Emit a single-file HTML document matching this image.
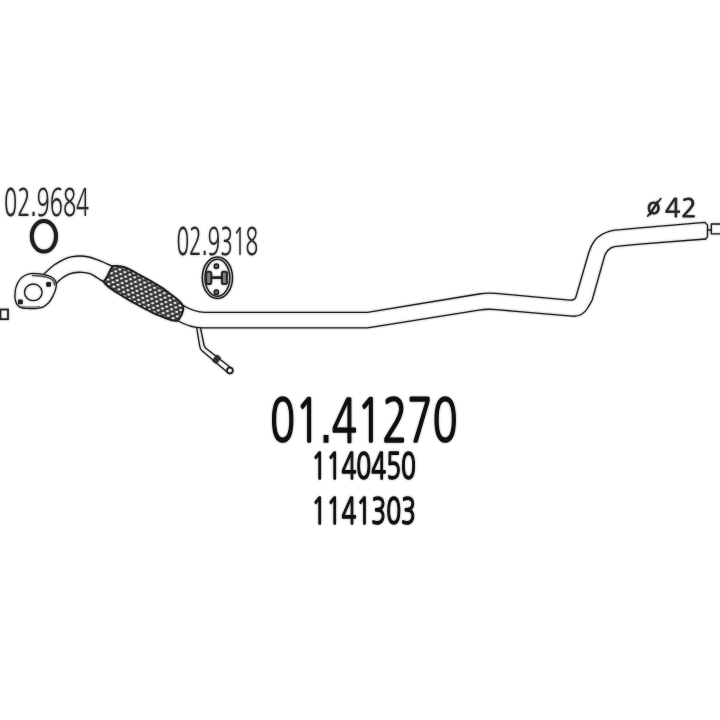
<!DOCTYPE html>
<html>
<head>
<meta charset="utf-8">
<title>01.41270</title>
<style>
html,body{margin:0;padding:0;background:#fff;}
body{width:720px;height:720px;overflow:hidden;position:relative;}
svg{position:absolute;left:0;top:0;display:block;}
text{font-family:"NanumGothic","Liberation Sans",sans-serif;fill:#1a1a1a;}
.dot{font-family:"Liberation Sans",sans-serif;}
.ln{fill:none;stroke:#111;stroke-width:1.3;stroke-linecap:round;stroke-linejoin:round;}
.lbl{font-size:38px;fill:#1c1c1c;}
.big{font-size:59.3px;fill:#000;stroke:#000;stroke-width:1.4;vector-effect:non-scaling-stroke;stroke-linejoin:miter;}
.sub{font-size:35.8px;fill:#000;stroke:#000;stroke-width:1.25;vector-effect:non-scaling-stroke;stroke-linejoin:miter;}
</style>
</head>
<body>
<svg width="720" height="720" viewBox="0 0 720 720">
<defs>
<filter id="soft" x="-2%" y="-2%" width="104%" height="104%"><feGaussianBlur stdDeviation="0.85"/></filter>
<pattern id="braid" width="5.6" height="7.2" patternUnits="userSpaceOnUse" patternTransform="rotate(28) translate(1,0)">
<rect width="5.6" height="7.2" fill="#2b2b2b"/>
<rect x="0.4" y="0.8" width="2.7" height="1.75" fill="#fff" transform="rotate(-28 1.85 1.75)"/>
<rect x="3.2" y="4.4" width="2.7" height="1.75" fill="#fff" transform="rotate(-28 4.65 5.35)"/>
<rect x="-2.4" y="4.4" width="2.7" height="1.75" fill="#fff" transform="rotate(-28 -0.95 5.35)"/>
</pattern>
</defs>
<rect width="720" height="720" fill="#fff"/>

<use href="#art" filter="url(#soft)" opacity="0.45"/>
<g opacity="0.9">
<g id="art">
<!-- labels -->
<text class="lbl" transform="translate(4.1,215.6) scale(0.573,1)">02<tspan class="dot">.</tspan>9684</text>
<text class="lbl" transform="translate(176.4,254.6) scale(0.551,1)">02<tspan class="dot">.</tspan>9318</text>

<!-- ring -->
<ellipse cx="43.9" cy="236.3" rx="12.1" ry="15.3" fill="none" stroke="#111" stroke-width="4"/>

<!-- hanger -->
<g id="hanger">
<ellipse cx="217.4" cy="277.7" rx="15.1" ry="20.8" fill="none" stroke="#111" stroke-width="1.5"/>
<ellipse cx="217.4" cy="277.8" rx="12.4" ry="18.5" fill="none" stroke="#111" stroke-width="1.5"/>
<rect x="206.2" y="271.8" width="5" height="12.2" rx="1.8" fill="#777" stroke="#1c1c1c" stroke-width="2"/>
<rect x="221.9" y="271.8" width="5" height="12.2" rx="1.8" fill="#777" stroke="#1c1c1c" stroke-width="2"/>
<path d="M211,277.6 L223,277.6" fill="none" stroke="#111" stroke-width="2.6"/>
<circle cx="216.4" cy="266.2" r="2.1" fill="#666" stroke="#111" stroke-width="1.5"/>
<circle cx="216.4" cy="292.2" r="2.1" fill="#666" stroke="#111" stroke-width="1.5"/>
</g>

<!-- small square left -->
<rect x="0.4" y="309.5" width="7.6" height="9.7" fill="none" stroke="#111" stroke-width="1.7"/>

<!-- flange -->
<path class="ln" d="M15.1,292.1 C15.4,289.2 16.3,285.8 17.5,283.3 C18.7,280.8 20.4,278.6 22.4,277.0 C24.3,275.4 26.8,274.4 29.2,273.8 C31.6,273.2 34.5,273.5 36.9,273.6 C39.3,273.7 41.4,274.1 43.7,274.6 C46.0,275.1 48.7,275.7 50.5,276.5 C52.3,277.3 53.6,278.3 54.6,279.6 C55.6,280.9 56.2,282.6 56.3,284.3 C56.4,286.1 56.0,288.0 55.4,290.1 C54.8,292.2 53.6,294.8 52.5,296.9 C51.4,299.0 50.2,301.1 48.6,302.8 C47.0,304.5 44.8,306.2 42.8,307.1 C40.8,308.0 39.2,308.2 36.9,308.4 C34.6,308.6 31.6,308.6 29.2,308.5 C26.8,308.4 24.3,308.5 22.4,308.0 C20.5,307.5 19.1,306.7 18.0,305.5 C16.9,304.3 16.0,303.0 15.5,300.8 C15.0,298.6 14.8,295.0 15.1,292.1 Z"/>
<path d="M32.5,275.5 C39,275.5 46,276.8 50.3,278.4 C52.8,279.6 54.2,281.8 54.6,285" fill="none" stroke="#444" stroke-width="1.5" stroke-linecap="round"/>
<path d="M21.5,306.6 C28,307.3 34,307.3 39.5,306.6" fill="none" stroke="#666" stroke-width="1.4" stroke-linecap="round"/>
<ellipse cx="33.3" cy="292.3" rx="8.8" ry="8.3" class="ln"/>
<rect x="46.2" y="282" width="4.8" height="4.8" rx="1.3" fill="#111"/>
<rect x="18" y="299.5" width="4.8" height="4.8" rx="1.3" fill="#111"/>

<!-- inlet pipe -->
<path class="ln" d="M44.0,273.9 C44.8,273.1 47.1,270.9 48.8,269.4 C50.5,267.9 52.9,265.9 54.4,264.8 C55.9,263.7 56.3,263.6 58.0,262.6 C59.7,261.7 62.2,260.1 64.4,259.1 C66.6,258.2 68.4,257.4 71.0,256.9 C73.6,256.4 77.0,256.0 80.0,256.0 C83.0,256.0 85.9,256.4 88.9,257.0 C91.9,257.6 94.9,258.8 97.8,259.9 C100.7,261.0 104.0,262.5 106.5,263.6 C109.0,264.7 111.5,265.9 112.5,266.3"/>
<path class="ln" d="M56.5,283.3 C56.9,282.9 58.0,281.7 59.0,280.8 C60.0,279.9 61.0,278.9 62.2,278.0 C63.4,277.1 64.9,276.2 66.0,275.6 C67.1,275.0 67.4,274.6 69.0,274.1 C70.6,273.6 73.4,272.8 75.6,272.5 C77.8,272.2 80.0,272.2 82.2,272.3 C84.4,272.4 87.3,273.0 88.9,273.4 C90.5,273.8 90.8,274.0 92.0,274.6 C93.2,275.2 94.5,276.1 95.8,276.9 C97.1,277.7 98.7,278.8 100.0,279.6 C101.3,280.4 102.9,281.4 103.5,281.8"/>

<!-- flex -->
<path d="M112.5,266.3 C117,265.6 121,266 125,267.5 C129,269 133.5,271.5 137.5,273.8 L150,280.6 L162.5,288 L175,297.5 C179,300.5 181.5,303 182.7,305.5 C183.6,307.5 183.4,309 183,310.5 C182.4,313 181.5,315.5 180,317.5 C179.2,319 178.5,320 177.3,320.7 C174.5,321.3 171,320.3 167.5,318.8 L155,313.8 L142.5,307.5 L130,300.6 L117.5,293 C113.5,290.5 110,288.2 107.5,286 C105.5,284.3 104.3,283 103.5,281.5 C105.5,279.8 106.5,278 107.5,276 C108.8,273 110.5,269.5 112.5,266.3 Z" fill="url(#braid)" stroke="#111" stroke-width="1.9" stroke-linejoin="round"/>

<!-- main pipe -->
<path class="ln" d="M182.8,305.3 C190,309.6 196,312.35 205,312.35 L367.5,312.35 L479,294 Q487.5,292.5 496,293.4 L569.5,300.1 C573.2,300.4 574.8,299.9 575.8,297.2 L588.9,252.2 C590.5,247 592.5,243.5 595,240.2 C598.5,235.8 604,232.8 610,231.1 C614,230.1 618,229.8 621.1,229.6 L640,227.8 L705,222.3 L707.5,225.2 L707.5,236.6 L705.6,239"/>
<path class="ln" d="M177.3,320.5 C184,324.3 192,327.8 202,327.8 L367.5,327.8 L479,310.1 Q487.5,308.7 496,309.6 L572,316.2 C579,316.7 584.5,313.5 588,307.5 C589.8,304.5 591.2,302.3 592.2,300 L604.4,256.7 C605.3,253.5 606.5,251.8 608,250.2 C610,248.2 612,247.2 614.4,246.7 L626.7,245.3 L640,244.1 L705.6,239"/>

<!-- end stub -->
<path class="ln" d="M707.5,230 L711.3,230"/>
<rect x="711.3" y="224" width="12" height="9.8" class="ln"/>

<!-- small rod -->
<path class="ln" d="M196.7,328 L199.8,346.5 C200.2,348.8 200.8,349.8 202,350.8 L226.5,371.5"/>
<path class="ln" d="M200.5,328 L204,345 C204.3,346.6 204.8,347.4 205.8,348.2 L231.5,368.3"/>
<rect x="-2.9" y="-4.1" width="5.8" height="8.2" rx="1.2" transform="translate(216.6,359.3) rotate(39)" fill="#222"/>
<circle cx="229.9" cy="370.6" r="2.9" fill="#eee" stroke="#111" stroke-width="1.8"/>

<!-- diameter -->
<text style="font-size:25.6px;letter-spacing:0.8px;fill:#151515;stroke:#151515;stroke-width:0.8"><tspan x="646.9" y="214.2" style="font-size:21.8px;letter-spacing:0;stroke-width:0.9">ø</tspan><tspan x="664.9" y="217.3">42</tspan></text>
<path d="M647.6,216.2 L660.8,198.6" fill="none" stroke="#151515" stroke-width="1.6" stroke-linecap="round"/>

<!-- part numbers -->
<text class="big" transform="translate(270,441.5) scale(0.70,1)">01<tspan class="dot">.</tspan>41270</text>
<text class="sub" transform="translate(311.6,478.6) scale(0.6875,1)">1140450</text>
<text class="sub" transform="translate(311.6,524.3) scale(0.6875,1)">1141303</text>
</g>
</g>
</svg>
</body>
</html>
